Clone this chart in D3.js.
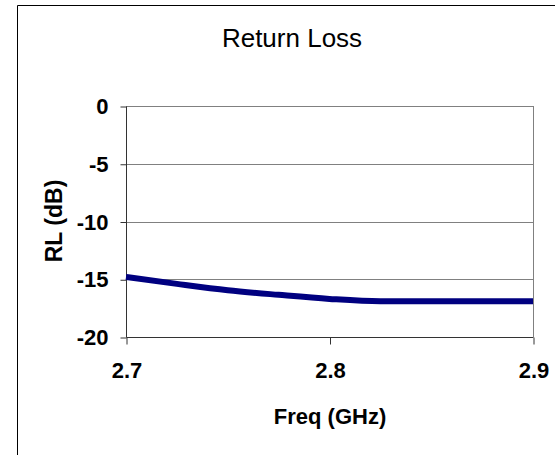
<!DOCTYPE html>
<html>
<head>
<meta charset="utf-8">
<script src="https://cdn.jsdelivr.net/npm/d3@7"></script>
<style>
  body { margin: 0; background: #fff; overflow: hidden; }
  svg { display: block; font-family: "Liberation Sans", Arial, sans-serif; }
</style>
</head>
<body>
<svg id="chart" width="555" height="455"></svg>
<script>
// return loss readings, 25 MHz steps
const freqs = [2.7, 2.725, 2.75, 2.775, 2.8, 2.825, 2.85, 2.875, 2.9];
const rlValues = [-14.8, -15.4, -15.95, -16.35, -16.7, -16.9, -16.9, -16.9, -16.9];
const xTicks = [2.7, 2.8, 2.9];
const yTicks = [0, -5, -10, -15, -20];

const svg = d3.select('#chart');
const plot = { left: 126, right: 533, top: 106, bottom: 337 };
const font = '"Liberation Sans", Arial, sans-serif';

// outer chart frame - only left and top edges are inside the picture
svg.append('path')
  .attr('d', 'M17.5,455V5.5H555')
  .attr('fill', 'none').attr('stroke', '#000').attr('stroke-width', 1);

const x = d3.scaleLinear().domain([2.7, 2.9]).range([plot.left, plot.right]);
const y = d3.scaleLinear().domain([-20, 0]).range([plot.bottom, plot.top]);

// gridlines
svg.append('g')
  .selectAll('line')
  .data(yTicks.filter(d => d !== -20))
  .enter()
  .append('line')
  .attr('x1', plot.left).attr('x2', plot.right)
  .attr('y1', d => Math.round(y(d)) + 0.5).attr('y2', d => Math.round(y(d)) + 0.5)
  .attr('stroke', '#808080');

// right border of plot area
svg.append('line')
  .attr('x1', plot.right + 0.5).attr('x2', plot.right + 0.5)
  .attr('y1', plot.top).attr('y2', plot.bottom)
  .attr('stroke', '#808080');

// axes
const yAxis = svg.append('g')
  .attr('transform', `translate(${plot.left + 0.5},0.5)`)
  .call(d3.axisLeft(y).tickValues(yTicks).tickSize(6).tickPadding(12).tickFormat(d => String(d)));

const xAxis = svg.append('g')
  .attr('transform', `translate(0.5,${plot.bottom + 0.5})`)
  .call(d3.axisBottom(x).tickValues(xTicks).tickSize(7).tickPadding(18).tickFormat(d => d.toFixed(1)));

[yAxis, xAxis].forEach(g => {
  g.select('.domain').attr('stroke', '#333');
  g.selectAll('.tick line').attr('stroke', '#333');
  g.selectAll('.tick text')
    .attr('fill', '#000')
    .style('font-size', '22px')
    .style('font-weight', 'bold')
    .style('font-family', font);
});
// plain domain lines without end caps
yAxis.select('.domain').attr('d', `M0,${plot.top}V${plot.bottom}`);
xAxis.select('.domain').attr('d', `M${plot.left},0H${plot.right}`);

// series line
const line = d3.line()
  .x((d, i) => x(freqs[i]))
  .y(d => y(d))
  .curve(d3.curveMonotoneX);

svg.append('path')
  .datum(rlValues)
  .attr('d', line)
  .attr('fill', 'none')
  .attr('stroke', '#000080')
  .attr('stroke-width', 6);

// titles
svg.append('text')
  .attr('x', 292).attr('y', 47)
  .attr('text-anchor', 'middle')
  .style('font-size', '26px')
  .text('Return Loss');

svg.append('text')
  .attr('x', 330).attr('y', 424)
  .attr('text-anchor', 'middle')
  .style('font-size', '22px')
  .style('font-weight', 'bold')
  .text('Freq (GHz)');

svg.append('text')
  .attr('transform', 'translate(62,221) rotate(-90)')
  .attr('text-anchor', 'middle')
  .style('font-size', '23px')
  .style('font-weight', 'bold')
  .text('RL (dB)');
</script>
</body>
</html>
